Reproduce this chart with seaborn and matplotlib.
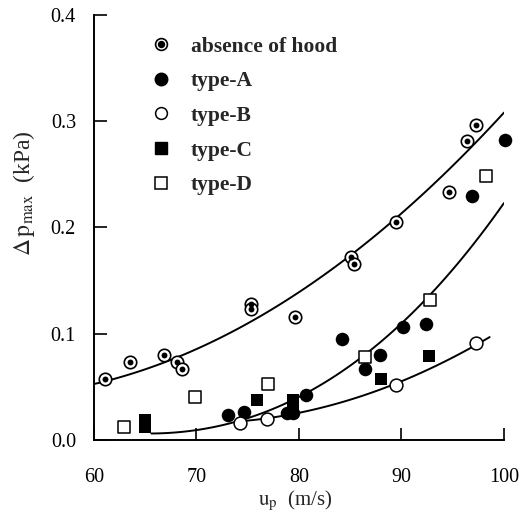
import matplotlib
matplotlib.use("Agg")
from matplotlib import pyplot as plt
from matplotlib.lines import Line2D
import seaborn as sns

# measured points, u_p (m/s) vs delta p_max (kPa)
absence_u = [61.1, 63.5, 66.8, 68.1, 68.6, 75.3, 75.35, 79.6, 85.1, 85.4, 89.5, 94.6, 96.4, 97.3]
absence_dp = [0.057, 0.073, 0.080, 0.073, 0.067, 0.128, 0.123, 0.116, 0.172, 0.166, 0.205, 0.233, 0.281, 0.296]

type_a_u = [73.1, 74.6, 78.8, 79.4, 80.7, 84.2, 86.4, 87.9, 90.1, 92.4, 96.9, 100.1]
type_a_dp = [0.0235, 0.026, 0.025, 0.025, 0.042, 0.095, 0.0665, 0.080, 0.106, 0.109, 0.230, 0.282]

type_b_u = [74.2, 76.9, 89.5, 97.3]
type_b_dp = [0.016, 0.020, 0.052, 0.091]

type_c_u = [65.0, 65.0, 75.9, 79.4, 79.4, 88.0, 92.7]
type_c_dp = [0.019, 0.012, 0.038, 0.038, 0.031, 0.057, 0.079]

type_d_u = [62.9, 69.9, 77.0, 86.4, 92.8, 98.2]
type_d_dp = [0.012, 0.040, 0.053, 0.078, 0.132, 0.248]

# points
upper_u = [60.0, 67.4, 75.9, 82.4, 87.9, 94.4, 100.0]
upper_dp = [0.049, 0.078, 0.121, 0.155, 0.191, 0.245, 0.315]
middle_u = [65.6, 68.0, 70.0, 73.3, 78.1, 81.4, 86.3, 89.5, 92.8, 100.0]
middle_dp = [0.006, 0.007, 0.009, 0.017, 0.033, 0.0455, 0.077, 0.110, 0.135, 0.223]
lower_u = [73.9, 76.85, 79.45, 81.4, 89.5, 94.4, 98.6]
lower_dp = [0.0157, 0.020, 0.027, 0.030, 0.052, 0.072, 0.099]

legend_labels = ["absence of hood", "type-A", "type-B", "type-C", "type-D"]

sns.set_style("ticks")
plt.rcParams["font.family"] = ["Liberation Serif", "DejaVu Serif"]
plt.rcParams["mathtext.fontset"] = "stix"

fig = plt.figure(figsize=(5.22, 5.13), dpi=100)
ax = fig.add_axes([0.180, 0.1423, 0.7855, 0.8285])

# fitted curves
for cu, cdp, order in [(upper_u, upper_dp, 2), (middle_u, middle_dp, 3), (lower_u, lower_dp, 2)]:
    sns.regplot(x=cu, y=cdp, order=order, ci=None, scatter=False, ax=ax,
                line_kws={"color": "black", "lw": 1.4})

kw = dict(ax=ax, clip_on=False, zorder=3, legend=False)
sns.scatterplot(x=absence_u, y=absence_dp, marker="o", s=80, facecolor="white",
                edgecolor="black", linewidth=1.2, **kw)
sns.scatterplot(x=absence_u, y=absence_dp, marker="o", s=18, color="black",
                linewidth=0, **kw)
sns.scatterplot(x=type_a_u, y=type_a_dp, marker="o", s=95, color="black", linewidth=0, **kw)
sns.scatterplot(x=type_b_u, y=type_b_dp, marker="o", s=85, facecolor="white",
                edgecolor="black", linewidth=1.1, **kw)
sns.scatterplot(x=type_c_u, y=type_c_dp, marker="s", s=75, color="black", linewidth=0, **kw)
sns.scatterplot(x=type_d_u, y=type_d_dp, marker="s", s=80, facecolor="white",
                edgecolor="black", linewidth=1.1, **kw)

ax.set_xlim(60, 100)
ax.set_ylim(0, 0.4)
ax.set_xticks([60, 70, 80, 90, 100])
ax.set_yticks([0.0, 0.1, 0.2, 0.3, 0.4])
ax.set_yticklabels(["0.0", "0.1", "0.2", "0.3", "0.4"])
ax.tick_params(direction="in", length=9, width=1.2, labelsize=14.5, colors="black")
ax.tick_params(axis="x", pad=20)
ax.tick_params(axis="y", pad=13)
sns.despine(ax=ax)
for side in ["left", "bottom"]:
    ax.spines[side].set_linewidth(1.4)
    ax.spines[side].set_color("black")

ax.set_xlabel(r"$\mathrm{u}_{\mathrm{p}}$  (m/s)", fontsize=15)
ax.xaxis.set_label_coords(0.49, -0.115)
ax.set_ylabel(r"$\Delta\,\mathrm{p}_{\mathrm{max}}$  (kPa)", fontsize=17)
ax.yaxis.set_label_coords(-0.14, 0.58)

handles = [
    (Line2D([], [], ls="none", marker="o", ms=8.5, mfc="white", mec="black", mew=1.2),
     Line2D([], [], ls="none", marker="o", ms=4.3, mfc="black", mec="black")),
    Line2D([], [], ls="none", marker="o", ms=9, mfc="black", mec="black"),
    Line2D([], [], ls="none", marker="o", ms=8.5, mfc="white", mec="black", mew=1.1),
    Line2D([], [], ls="none", marker="s", ms=8, mfc="black", mec="black"),
    Line2D([], [], ls="none", marker="s", ms=8, mfc="white", mec="black", mew=1.1),
]
ax.legend(handles, legend_labels, loc="upper left", bbox_to_anchor=(0.09, 0.995),
          frameon=False, prop={"size": 15.5, "weight": "bold"}, handlelength=1.0,
          handletextpad=0.9, labelspacing=0.68)

fig.savefig("out.png", dpi=100)
